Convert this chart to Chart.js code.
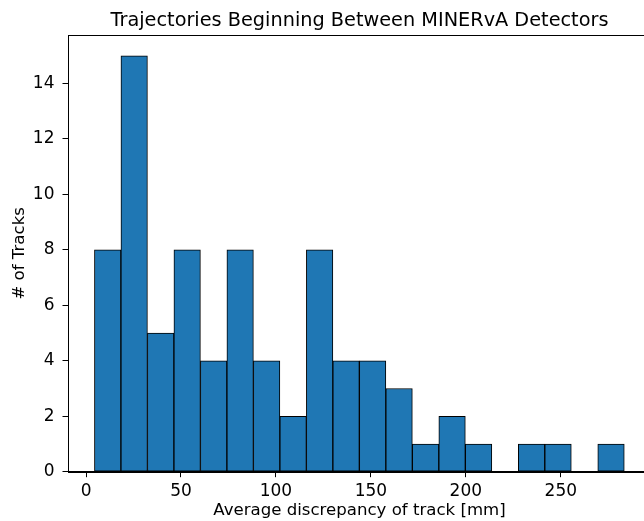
<!DOCTYPE html>
<html>
<head>
<meta charset="utf-8">
<script src="https://cdn.jsdelivr.net/npm/chart.js@4.4.1/dist/chart.umd.min.js"></script>
<style>
  html, body { margin: 0; padding: 0; background: #fff; overflow: hidden; }
  #wrap { width: 660px; height: 521px; }
</style>
</head>
<body>
<div id="wrap"><canvas id="c" width="660" height="521"></canvas></div>
<script>
// Histogram bin edges (mm)
const binEdges = [4.4, 18.4, 32.3, 46.3, 60.2, 74.2, 88.1, 102.1, 116.0, 130.0, 143.9,
                  157.9, 171.8, 185.8, 199.7, 213.7, 227.6, 241.6, 255.5, 269.5, 283.4];
// Number of tracks per bin
const counts = [8, 15, 5, 8, 4, 8, 4, 2, 8, 4, 4, 3, 1, 2, 1, 0, 1, 1, 0, 1];
const xTicks = [0, 50, 100, 150, 200, 250];
const yTicks = [0, 2, 4, 6, 8, 10, 12, 14];

const titleText = 'Trajectories Beginning Between MINERvA Detectors';
const xLabel = 'Average discrepancy of track [mm]';
const yLabel = '# of Tracks';

const points = counts.map((c, i) => ({ x: (binEdges[i] + binEdges[i + 1]) / 2, y: c }));

const FONT = 'DejaVu Sans';

const framePlugin = {
  id: 'frame',
  afterDraw(chart) {
    const { ctx, chartArea: a } = chart;
    ctx.save();
    ctx.strokeStyle = '#000';
    ctx.lineWidth = 1;
    ctx.strokeRect(Math.round(a.left) + 0.5, Math.round(a.top) + 0.5,
                   Math.round(a.right - a.left), Math.round(a.bottom - a.top));
    // title centred over the axes
    ctx.fillStyle = '#000';
    ctx.font = '19.3px "DejaVu Sans"';
    ctx.textAlign = 'center';
    ctx.textBaseline = 'alphabetic';
    ctx.fillText(titleText, (a.left + a.right) / 2, 26);
    ctx.restore();
  }
};

new Chart(document.getElementById('c'), {
  type: 'bar',
  data: {
    datasets: [{
      data: points,
      backgroundColor: '#1f77b4',
      borderColor: '#000000',
      borderWidth: 1,
      barPercentage: 1.0,
      categoryPercentage: 1.0,
      borderSkipped: false
    }]
  },
  options: {
    responsive: false,
    animation: false,
    devicePixelRatio: 1,
    layout: { padding: { left: 0, right: 9, top: 35, bottom: 0 } },
    plugins: {
      legend: { display: false },
      tooltip: { enabled: false },
      title: { display: false }
    },
    scales: {
      x: {
        type: 'linear',
        min: -9.5,
        max: 297.5,
        offset: false,
        grid: { offset: false, drawOnChartArea: false, drawTicks: true, tickLength: 5.5, tickColor: '#000' },
        border: { display: true, color: '#000' },
        ticks: { color: '#000', font: { family: FONT, size: 17 }, maxRotation: 0, padding: 4 },
        afterBuildTicks(scale) { scale.ticks = xTicks.map(v => ({ value: v })); },
        afterFit(scale) { scale.height = 49.3; },
        title: {
          display: true, text: xLabel, color: '#000',
          font: { family: FONT, size: 16.6 }, padding: { top: 0, bottom: 0 }
        }
      },
      y: {
        type: 'linear',
        min: 0,
        max: 15.75,
        grid: { drawOnChartArea: false, drawTicks: true, tickLength: 5.5, tickColor: '#000' },
        border: { display: true, color: '#000' },
        ticks: { color: '#000', font: { family: FONT, size: 17 }, padding: 8 },
        afterBuildTicks(scale) { scale.ticks = yTicks.map(v => ({ value: v })); },
        afterFit(scale) { scale.width = 68; },
        title: {
          display: true, text: yLabel, color: '#000',
          font: { family: FONT, size: 16.6 }, padding: { top: 9.5, bottom: 0 }
        }
      }
    }
  },
  plugins: [framePlugin]
});
</script>
</body>
</html>
